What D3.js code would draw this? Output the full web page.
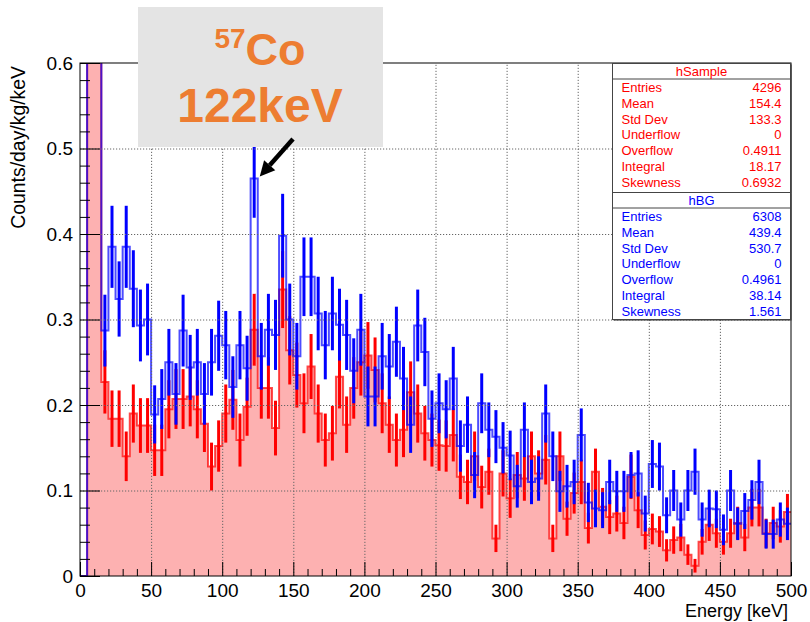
<!DOCTYPE html>
<html>
<head>
<meta charset="utf-8">
<script src="https://cdn.jsdelivr.net/npm/d3@7"></script>
<style>
  body { margin: 0; background: #fff; }
  svg { display: block; font-family: "Liberation Sans", Arial, Helvetica, sans-serif; }
</style>
</head>
<body>
<script>
// 100 bins of 5 keV from 0 to 500 keV
const binEdges = d3.range(0, 505, 5);

// hSample (red), counts/day/kg/keV per bin; bins 1-2 run off the top of the frame
const hSample = [
  0, 0.95, 0.75, 0.227, 0.184, 0.184, 0.140, 0.190, 0.176, 0.176,
  0.147, 0.147, 0.195, 0.207, 0.207, 0.210, 0.195, 0.178, 0.128, 0.152,
  0.190, 0.206, 0.159, 0.198, 0.288, 0.220, 0.220, 0.173, 0.335, 0.264,
  0.235, 0.202, 0.245, 0.190, 0.159, 0.167, 0.233, 0.177, 0.220, 0.250,
  0.258, 0.241, 0.202, 0.177, 0.159, 0.171, 0.215, 0.190, 0.167, 0.159,
  0.153, 0.152, 0.165, 0.116, 0.110, 0.140, 0.104, 0.122, 0.044, 0.120,
  0.091, 0.118, 0.114, 0.140, 0.120, 0.136, 0.044, 0.140, 0.067, 0.097,
  0.110, 0.056, 0.122, 0.081, 0.069, 0.073, 0.062, 0.116, 0.077, 0.048,
  0.055, 0.052, 0.030, 0.042, 0.045, 0.025, 0.012, 0.040, 0.060, 0.050,
  0.040, 0.050, 0.062, 0.045, 0.080, 0.080, 0.050, 0.062, 0.058, 0.075
];
const hSampleErr = [
  0, 0.075, 0.067, 0.037, 0.033, 0.033, 0.029, 0.034, 0.032, 0.032,
  0.030, 0.030, 0.034, 0.035, 0.035, 0.035, 0.034, 0.033, 0.028, 0.030,
  0.034, 0.035, 0.031, 0.034, 0.042, 0.036, 0.036, 0.032, 0.045, 0.040,
  0.038, 0.035, 0.038, 0.034, 0.031, 0.032, 0.037, 0.033, 0.036, 0.039,
  0.039, 0.038, 0.035, 0.033, 0.031, 0.032, 0.036, 0.034, 0.032, 0.031,
  0.030, 0.030, 0.031, 0.026, 0.026, 0.029, 0.025, 0.027, 0.016, 0.027,
  0.023, 0.027, 0.026, 0.029, 0.027, 0.029, 0.016, 0.029, 0.020, 0.024,
  0.026, 0.018, 0.027, 0.022, 0.020, 0.021, 0.019, 0.026, 0.021, 0.017,
  0.018, 0.018, 0.013, 0.016, 0.016, 0.012, 0.008, 0.015, 0.019, 0.017,
  0.015, 0.017, 0.019, 0.016, 0.022, 0.022, 0.017, 0.019, 0.019, 0.021
];

// hBG (blue)
const hBG = [
  0, 1.0, 0.85, 0.287, 0.385, 0.324, 0.385, 0.336, 0.293, 0.300,
  0.189, 0.207, 0.250, 0.213, 0.287, 0.244, 0.250, 0.213, 0.250, 0.281,
  0.270, 0.221, 0.270, 0.243, 0.465, 0.257, 0.288, 0.282, 0.398, 0.300,
  0.257, 0.350, 0.350, 0.307, 0.270, 0.307, 0.294, 0.282, 0.240, 0.288,
  0.210, 0.210, 0.257, 0.245, 0.274, 0.231, 0.177, 0.293, 0.262, 0.184,
  0.202, 0.195, 0.231, 0.152, 0.177, 0.118, 0.202, 0.171, 0.163, 0.150,
  0.141, 0.105, 0.171, 0.110, 0.114, 0.190, 0.140, 0.099, 0.105, 0.110,
  0.165, 0.086, 0.079, 0.077, 0.110, 0.099, 0.099, 0.118, 0.120, 0.073,
  0.131, 0.128, 0.071, 0.100, 0.066, 0.100, 0.122, 0.066, 0.079, 0.078,
  0.054, 0.100, 0.061, 0.076, 0.089, 0.110, 0.049, 0.049, 0.066, 0.061
];
const hBGErr = [
  0, 0.077, 0.071, 0.042, 0.048, 0.044, 0.048, 0.045, 0.042, 0.042,
  0.034, 0.035, 0.039, 0.036, 0.042, 0.038, 0.039, 0.036, 0.039, 0.041,
  0.040, 0.036, 0.040, 0.038, 0.046, 0.039, 0.042, 0.041, 0.049, 0.042,
  0.039, 0.046, 0.046, 0.043, 0.040, 0.043, 0.042, 0.041, 0.038, 0.042,
  0.035, 0.035, 0.039, 0.038, 0.041, 0.037, 0.033, 0.042, 0.040, 0.033,
  0.035, 0.034, 0.037, 0.030, 0.033, 0.027, 0.035, 0.032, 0.031, 0.030,
  0.029, 0.025, 0.032, 0.026, 0.026, 0.034, 0.029, 0.024, 0.025, 0.026,
  0.031, 0.023, 0.022, 0.021, 0.026, 0.024, 0.024, 0.027, 0.027, 0.021,
  0.028, 0.028, 0.021, 0.024, 0.020, 0.024, 0.027, 0.020, 0.022, 0.022,
  0.018, 0.024, 0.019, 0.021, 0.023, 0.026, 0.017, 0.017, 0.020, 0.019
];

const xTicks = [0, 50, 100, 150, 200, 250, 300, 350, 400, 450, 500];
const yTicks = [0, 0.1, 0.2, 0.3, 0.4, 0.5, 0.6];
const xMinor = d3.range(0, 501, 10);
const yMinor = d3.range(0, 0.601, 0.02);

const statLabels = ["Entries", "Mean", "Std Dev", "Underflow", "Overflow", "Integral", "Skewness"];
const sampleStats = ["4296", "154.4", "133.3", "0", "0.4911", "18.17", "0.6932"];
const bgStats = ["6308", "439.4", "530.7", "0", "0.4961", "38.14", "1.561"];

const W = 810, H = 622;
const frame = {left: 80, right: 791, top: 63, bottom: 576};
const RED = "#ff0000", BLUE = "#0000ff", FILL = "#fdb1b1", ORANGE = "#ed7d31";

const svg = d3.select("body").append("svg").attr("width", W).attr("height", H);
svg.append("rect").attr("width", W).attr("height", H).attr("fill", "#fff");

const x = d3.scaleLinear().domain([0, 500]).range([frame.left, frame.right]);
const y = d3.scaleLinear().domain([0, 0.6]).range([frame.bottom, frame.top]);

svg.append("clipPath").attr("id", "frameClip")
  .append("rect")
  .attr("x", frame.left).attr("y", frame.top)
  .attr("width", frame.right - frame.left).attr("height", frame.bottom - frame.top);

// step points: left edge of every bin plus closing right edge
function stepPoints(vals) {
  let pts = vals.map((v, i) => [binEdges[i], v]);
  pts.push([binEdges[vals.length], vals[vals.length - 1]]);
  return pts;
}
const stepLine = d3.line().x(d => x(d[0])).y(d => y(d[1])).curve(d3.curveStepAfter);
const stepArea = d3.area().x(d => x(d[0])).y0(y(0)).y1(d => y(d[1])).curve(d3.curveStepAfter);

const plot = svg.append("g").attr("clip-path", "url(#frameClip)");

// red fill first
plot.append("path")
  .attr("d", stepArea(stepPoints(hSample)))
  .attr("fill", FILL);

// dotted grid
const grid = svg.append("g").attr("class", "grid");
grid.append("g").attr("transform", `translate(0,${frame.bottom})`)
  .call(d3.axisBottom(x).tickValues(xTicks.slice(1, -1)).tickSize(-(frame.bottom - frame.top)).tickFormat(""));
grid.append("g").attr("transform", `translate(${frame.left},0)`)
  .call(d3.axisLeft(y).tickValues(yTicks.slice(1, -1)).tickSize(-(frame.right - frame.left)).tickFormat(""));
grid.selectAll(".domain").remove();
grid.selectAll("line").attr("stroke", "#666").attr("stroke-width", 1).attr("stroke-dasharray", "1.2,1.8");

function drawHist(vals, errs, color) {
  const g = plot.append("g");
  g.append("path")
    .attr("d", stepLine(stepPoints(vals)))
    .attr("fill", "none")
    .attr("stroke", color)
    .attr("stroke-opacity", 0.7)
    .attr("stroke-width", 2);
  g.selectAll("line.err")
    .data(vals.map((v, i) => ({v: v, e: errs[i], i: i})).filter(d => d.v > 0))
    .enter().append("line")
    .attr("class", "err")
    .attr("x1", d => x((binEdges[d.i] + binEdges[d.i + 1]) / 2))
    .attr("x2", d => x((binEdges[d.i] + binEdges[d.i + 1]) / 2))
    .attr("y1", d => y(d.v - d.e))
    .attr("y2", d => y(d.v + d.e))
    .attr("stroke", color)
    .attr("stroke-width", 3);
}
drawHist(hSample, hSampleErr, RED);
drawHist(hBG, hBGErr, BLUE);

// axes, ROOT style ticks inside the frame
const axes = svg.append("g");
axes.append("g").attr("transform", `translate(0,${frame.bottom})`)
  .call(d3.axisBottom(x).tickValues(xTicks).tickSize(-14).tickPadding(8).tickFormat(d3.format("d")));
axes.append("g").attr("transform", `translate(0,${frame.bottom})`)
  .call(d3.axisBottom(x).tickValues(xMinor.filter(v => v % 50 !== 0)).tickSize(-7).tickFormat(""));
axes.append("g").attr("transform", `translate(${frame.left},0)`)
  .call(d3.axisLeft(y).tickValues(yTicks).tickSize(-20).tickPadding(7).tickFormat(d => d === 0 ? "0" : d3.format(".1f")(d)));
axes.append("g").attr("transform", `translate(${frame.left},0)`)
  .call(d3.axisLeft(y).tickValues(yMinor.filter(v => Math.abs(v * 10 - Math.round(v * 10)) > 1e-6)).tickSize(-10).tickFormat(""));
axes.selectAll(".domain").remove();
axes.selectAll("line").attr("stroke", "#000").attr("stroke-width", 1);
axes.selectAll("text")
  .attr("font-size", 19)
  .attr("font-family", "\"Liberation Sans\", Arial, sans-serif")
  .attr("fill", "#000");

// frame
svg.append("rect")
  .attr("x", frame.left).attr("y", frame.top)
  .attr("width", frame.right - frame.left).attr("height", frame.bottom - frame.top)
  .attr("fill", "none").attr("stroke", "#000").attr("stroke-width", 1);

// axis titles
svg.append("text")
  .attr("x", frame.right - 3).attr("y", 617)
  .attr("text-anchor", "end")
  .attr("font-size", 18)
  .text("Energy [keV]");
svg.append("text")
  .attr("transform", `translate(25,${frame.top + 3}) rotate(-90)`)
  .attr("text-anchor", "end")
  .attr("font-size", 19.4)
  .text("Counts/day/kg/keV");

// stats boxes
function statsBox(title, vals, color, top, bottom) {
  const g = svg.append("g");
  const left = 612.5, right = 790.5;
  g.append("rect").attr("x", left + 1).attr("y", top + 1)
    .attr("width", right - left).attr("height", bottom - top).attr("fill", "#333");
  g.append("rect").attr("x", left).attr("y", top)
    .attr("width", right - left).attr("height", bottom - top)
    .attr("fill", "#fff").attr("stroke", "#444").attr("stroke-width", 1);
  g.append("line").attr("x1", left).attr("x2", right)
    .attr("y1", top + 15.5).attr("y2", top + 15.5)
    .attr("stroke", "#444").attr("stroke-width", 1);
  g.append("text").attr("x", (left + right) / 2).attr("y", top + 12.8)
    .attr("text-anchor", "middle").attr("font-size", 13).attr("fill", color).text(title);
  statLabels.forEach((lab, i) => {
    const by = top + 28.5 + i * 15.8;
    g.append("text").attr("x", 621.5).attr("y", by)
      .attr("font-size", 13).attr("fill", color).text(lab);
    g.append("text").attr("x", 781.5).attr("y", by)
      .attr("text-anchor", "end").attr("font-size", 13).attr("fill", color).text(vals[i]);
  });
}
statsBox("hSample", sampleStats, RED, 63.5, 192.5);
statsBox("hBG", bgStats, BLUE, 192.5, 319.5);

// 57Co annotation
svg.append("rect")
  .attr("x", 138).attr("y", 7).attr("width", 245).attr("height", 140)
  .attr("fill", "#e4e4e4");
const co = svg.append("text")
  .attr("x", 260).attr("y", 65)
  .attr("text-anchor", "middle")
  .attr("font-weight", "bold")
  .attr("fill", ORANGE);
co.append("tspan").attr("font-size", 28).attr("dy", -17).text("57");
co.append("tspan").attr("font-size", 45).attr("dy", 17).text("Co");
svg.append("text")
  .attr("x", 260).attr("y", 122)
  .attr("text-anchor", "middle")
  .attr("font-weight", "bold")
  .attr("font-size", 48)
  .attr("fill", ORANGE)
  .text("122keV");

// arrow pointing at the 122 keV peak bin
const tip = [x(125) + 2, y(hBG[24]) - 2];
const tail = [293, 139];
const len = Math.hypot(tip[0] - tail[0], tip[1] - tail[1]);
const ux = (tip[0] - tail[0]) / len, uy = (tip[1] - tail[1]) / len;
const headL = 15, headW = 7.5;
const base = [tip[0] - ux * headL, tip[1] - uy * headL];
svg.append("line")
  .attr("x1", tail[0]).attr("y1", tail[1])
  .attr("x2", base[0]).attr("y2", base[1])
  .attr("stroke", "#000").attr("stroke-width", 4.5);
svg.append("polygon")
  .attr("points", [
    tip,
    [base[0] - uy * headW, base[1] + ux * headW],
    [base[0] + uy * headW, base[1] - ux * headW]
  ].map(p => p.join(",")).join(" "))
  .attr("fill", "#000");
</script>
</body>
</html>
